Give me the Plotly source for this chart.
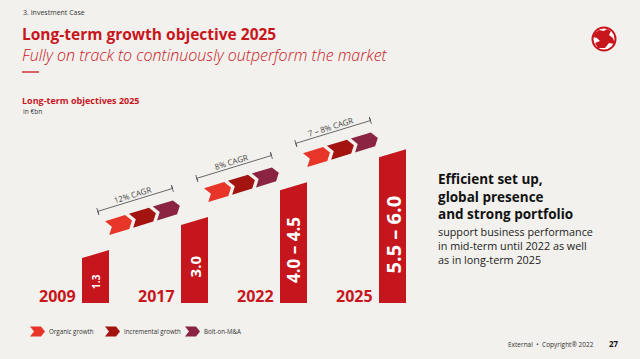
import math
import plotly.graph_objects as go

# ---------------- data ----------------
years = ["2009", "2017", "2022", "2025"]
value_labels = ["1.3", "3.0", "4.0 – 4.5", "5.5 – 6.0"]
bar_heights = [1.36, 2.36, 3.42, 4.42]          # visual bar height (left edge), chart units
cagr_labels = ["12% CAGR", "8% CAGR", "7 – 8% CAGR"]
growth_components = ["Organic growth", "Incremental growth", "Bolt-on-M&A"]

# ---------------- style / geometry ----------------
W, H = 640, 359
PX_X, PX_Y = 99.0, 33.0          # pixels per axis unit
X0_PX, Y0_PX = 95.5, 303.0       # pixel of x=0, y=0
x_range = [-X0_PX / PX_X, (W - X0_PX) / PX_X]
y_range = [-(H - Y0_PX) / PX_Y, Y0_PX / PX_Y]

BG = "#f2f1ed"
RED = "#c8161d"
BAR = "#c5161d"
CHEV = ["#e8352a", "#a3130f", "#8a2440"]
DARK = "#333333"
BAR_W = 27 / PX_X
SLANT = 8 / PX_Y
VAL_SIZES = [10, 15, 17, 20]
FONT = "Open Sans"

def P(xp, yp):
    return xp / W, 1 - yp / H

fig = go.Figure()

# bars with slanted tops
for i, h in enumerate(bar_heights):
    xl, xr = i - BAR_W / 2, i + BAR_W / 2
    fig.add_trace(go.Scatter(
        x=[xl, xr, xr, xl, xl], y=[0, 0, h + SLANT, h, 0],
        fill="toself", fillcolor=BAR, mode="lines", line=dict(width=0),
        hoverinfo="skip", showlegend=False))

# chevron groups (growth components) between consecutive bars
TH = math.radians(17)
cu, su = math.cos(TH), math.sin(TH)

def local(ax, ay, u, v):
    dx = u * cu + v * su
    dy = u * su - v * cu
    return ax + dx / PX_X, ay + dy / PX_Y

L_, T_, TIP, STEP = 21.0, 14.5, 5.0, 25.0
annotations = []
shapes = []
for g, lab in enumerate(cagr_labels):
    ax = g + 9.5 / PX_X
    ay = bar_heights[g] + 1.12
    for k, comp in enumerate(growth_components):
        u0 = k * STEP
        pts = [(u0, 0), (u0 + L_, 0), (u0 + L_ + TIP, T_ / 2), (u0 + L_, T_),
               (u0, T_), (u0 + TIP, T_ / 2), (u0, 0)]
        xs, ys = zip(*[local(ax, ay, u, v) for u, v in pts])
        fig.add_trace(go.Scatter(x=list(xs), y=list(ys), fill="toself",
                                 fillcolor=CHEV[k], mode="lines", line=dict(width=0),
                                 hoverinfo="skip", showlegend=False))
    # bracket
    vb = -11.5
    ua, ub = -4.0, 74.0
    bx, by = zip(*[local(ax, ay, u, v) for u, v in
                   [(ua, vb - 3.5), (ua, vb + 3.5), (ua, vb), (ub, vb), (ub, vb - 3.5), (ub, vb + 3.5)]])
    fig.add_trace(go.Scatter(x=list(bx), y=list(by), mode="lines",
                             line=dict(color="#444444", width=0.8),
                             hoverinfo="skip", showlegend=False))
    tx, ty = local(ax, ay, 34, vb - 6)
    annotations.append(dict(x=tx, y=ty, xref="x", yref="y", text=lab, showarrow=False,
                            textangle=-17, font=dict(family=FONT, size=8, color="#444444")))

# year labels and bar value labels
for i, (yr, vl, h) in enumerate(zip(years, value_labels, bar_heights)):
    annotations.append(dict(x=i - 38 / PX_X, y=7 / PX_Y, xref="x", yref="y", text=yr,
                            showarrow=False, font=dict(family=FONT, size=16, color=RED, weight="bold")))
    annotations.append(dict(x=i + 0.5 / PX_X, y=h * 0.47, xref="x", yref="y", text=vl,
                            showarrow=False, textangle=-90,
                            font=dict(family=FONT, size=VAL_SIZES[i], color="white", weight="bold")))

def txt(xp, yp, text, size, color=DARK, weight="normal", style="normal", anchor="left", align="left"):
    x, y = P(xp, yp)
    annotations.append(dict(x=x, y=y, xref="paper", yref="paper", text=text, showarrow=False,
                            xanchor=anchor, yanchor="middle", align=align,
                            font=dict(family=FONT, size=size, color=color, weight=weight, style=style)))

txt(21, 12, "3. Investment Case", 7)
txt(20, 33.5, "Long-term growth objective 2025", 15.5, RED, "bold")
txt(20, 55, "Fully on track to continuously outperform the market", 16, RED, 300, "italic")
txt(20, 101, "Long-term objectives 2025", 9, RED, "bold")
txt(21, 111, "In €bn", 6.5)

txt(436, 196, "Efficient set up,<br>global presence<br>and strong portfolio", 13.5, "#111111", "bold")
txt(436, 245, "support business performance<br>in mid-term until 2022 as well<br>as in long-term 2025",
    10.8, "#222222")

txt(506, 344, "External  •  Copyright® 2022", 6.5, DARK)
txt(607, 343, "27", 8, "#111111", "bold")

# legend
for k, (comp, xc, xt) in enumerate(zip(growth_components, [30, 105, 185], [47, 122, 202])):
    yc = 331.5
    pts = [(xc, yc - 5), (xc + 11, yc - 5), (xc + 15, yc), (xc + 11, yc + 5),
           (xc, yc + 5), (xc + 4, yc)]
    path = "M " + " L ".join(f"{P(a, b)[0]:.5f},{P(a, b)[1]:.5f}" for a, b in pts) + " Z"
    shapes.append(dict(type="path", xref="paper", yref="paper", path=path,
                       fillcolor=CHEV[k], line=dict(width=0)))
    txt(xt, yc, comp, 6.2, DARK)

# red short rule under subtitle
x1, y1 = P(22, 72)
x2, _ = P(39, 72)
shapes.append(dict(type="line", xref="paper", yref="paper", x0=x1, x1=x2, y0=y1, y1=y1,
                   line=dict(color=RED, width=1.3)))

# logo
cx, cy, r = 604, 39, 12.5
a, b = P(cx - r, cy - r)
c, d = P(cx + r, cy + r)
shapes.append(dict(type="circle", xref="paper", yref="paper", x0=a, y0=d, x1=c, y1=b,
                   fillcolor=RED, line=dict(width=0)))
r2 = 10.5
a, b = P(cx - r2, cy - r2)
c, d = P(cx + r2, cy + r2)
shapes.append(dict(type="circle", xref="paper", yref="paper", x0=a, y0=d, x1=c, y1=b,
                   fillcolor="white", line=dict(width=0)))
dragon = [(595, 33), (599, 30), (604, 31), (607, 29), (611, 31), (609, 35), (613, 38),
          (615, 44), (609, 43), (605, 48), (598, 48), (595, 43), (600, 41), (597, 38), (593, 37)]
path = "M " + " L ".join(f"{P(a_, b_)[0]:.5f},{P(a_, b_)[1]:.5f}" for a_, b_ in dragon) + " Z"
shapes.append(dict(type="path", xref="paper", yref="paper", path=path, fillcolor=RED, line=dict(width=0)))

fig.update_layout(
    width=W, height=H, margin=dict(l=0, r=0, t=0, b=0),
    paper_bgcolor=BG, plot_bgcolor=BG, showlegend=False,
    xaxis=dict(range=x_range, visible=False, fixedrange=True),
    yaxis=dict(range=y_range, visible=False, fixedrange=True),
    annotations=annotations, shapes=shapes,
)
fig.write_html("out.html", config={"displayModeBar": False},
               post_script="document.body.style.margin='0px';"
                           "document.body.style.backgroundColor='#f2f1ed';")
